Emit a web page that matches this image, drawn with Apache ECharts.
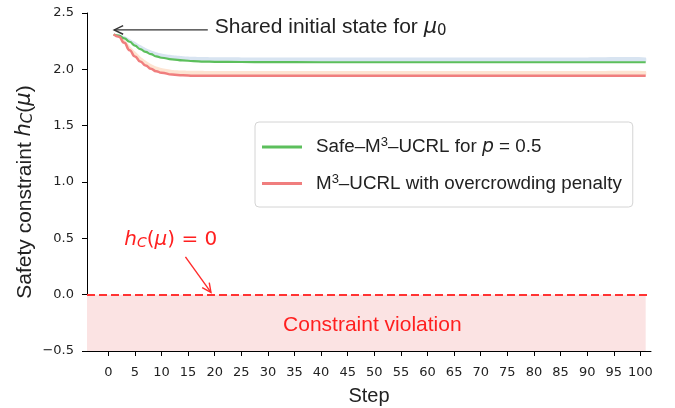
<!DOCTYPE html>
<html lang="en">
<head>
<meta charset="UTF-8">
<title>Safety constraint</title>
<style>
  html, body { margin: 0; padding: 0; background: #fff; }
  #chart { width: 675px; height: 408px; }
</style>
<script src="https://cdn.jsdelivr.net/npm/echarts@6/dist/echarts.min.js"></script>
</head>
<body>
<div id="chart"></div>
<script>
const steps = [1, 2, 3, 4, 5, 6, 7, 8, 9, 10, 12, 14, 16, 18, 20, 25, 30, 40, 50, 60, 70, 80, 90, 101];
// Safe-M3-UCRL (green) and its upper band (light blue)
const safeMean  = [2.31, 2.30, 2.275, 2.245, 2.21, 2.18, 2.155, 2.135, 2.115, 2.103, 2.088, 2.079, 2.073, 2.069, 2.067, 2.065, 2.064, 2.063, 2.063, 2.063, 2.063, 2.063, 2.063, 2.063];
const safeUpper = [2.31, 2.31, 2.295, 2.27, 2.245, 2.215, 2.19, 2.17, 2.152, 2.14, 2.125, 2.117, 2.112, 2.109, 2.107, 2.106, 2.105, 2.105, 2.105, 2.105, 2.105, 2.105, 2.105, 2.105];
// M3-UCRL with penalty (red) and its upper band (peach)
const penMean  = [2.31, 2.29, 2.235, 2.17, 2.115, 2.07, 2.035, 2.005, 1.983, 1.97, 1.954, 1.947, 1.944, 1.943, 1.943, 1.943, 1.943, 1.943, 1.943, 1.943, 1.943, 1.943, 1.943, 1.943];
const penUpper = [2.31, 2.30, 2.265, 2.21, 2.16, 2.115, 2.078, 2.047, 2.026, 2.012, 1.995, 1.99, 1.987, 1.986, 1.985, 1.985, 1.985, 1.985, 1.985, 1.985, 1.985, 1.985, 1.985, 1.985];

const xTicks = [0, 5, 10, 15, 20, 25, 30, 35, 40, 45, 50, 55, 60, 65, 70, 75, 80, 85, 90, 95, 100];

const green = '#5cbf5c';
const red = '#f07e7e';
const textFont = '"Liberation Sans", Arial, sans-serif';
const mathFont = '"DejaVu Sans", sans-serif';

const pairs = (xs, ys) => xs.map((x, i) => [x, ys[i]]);

const chart = echarts.init(document.getElementById('chart'));

const legendNames = {
    safe: 'Safe–M{sup|3}–UCRL for {i|p} = 0.5',
    penalty: 'M{sup|3}–UCRL with overcrowding penalty'
};

// shaded band between a lower and an upper curve
function band(name, lower, upper, color) {
    return {
        name: name, type: 'custom', silent: true, z: 1,
        data: steps.map((s, i) => [s, lower[i], upper[i]]),
        encode: { x: 0, y: [1, 2] },
        renderItem: (params, api) => {
            if (params.dataIndex !== 0) return;
            const up = steps.map((s, i) => api.coord([s, upper[i]]));
            const lo = steps.map((s, i) => api.coord([s, lower[i]])).reverse();
            return {
                type: 'polygon',
                shape: { points: up.concat(lo), smooth: 0.2 },
                style: { fill: color }
            };
        }
    };
}

const option = {
    animation: false,
    grid: { left: 87, right: 24, top: 13, bottom: 57, outerBoundsMode: 'none' },
    xAxis: {
        type: 'value', min: -4, max: 102,
        name: 'Step', nameLocation: 'middle', nameGap: 35,
        nameTextStyle: { fontFamily: textFont, fontSize: 20, color: '#222' },
        axisLine: { onZero: false, lineStyle: { color: '#000' } },
        axisTick: { length: 5, lineStyle: { color: '#000' }, customValues: xTicks },
        axisLabel: { fontFamily: mathFont, fontSize: 13, color: '#222', margin: 15, customValues: xTicks },
        splitLine: { show: false }
    },
    yAxis: {
        type: 'value', min: -0.5, max: 2.5, interval: 0.5,
        name: 'Safety constraint {i|h}{sub|C}({i|μ})', nameLocation: 'middle', nameGap: 51, nameRotate: 90,
        nameMoveOverlap: false,
        nameTextStyle: {
            fontFamily: textFont, fontSize: 21, color: '#222', padding: [0, 20, 0, 0],
            rich: {
                i: { fontFamily: mathFont, fontStyle: 'italic', fontSize: 21 },
                sub: { fontFamily: mathFont, fontStyle: 'italic', fontSize: 15, verticalAlign: 'bottom', padding: [7, 0, 0, 0] }
            }
        },
        axisLine: { show: true, onZero: false, lineStyle: { color: '#000' } },
        axisTick: { show: true, length: 5, lineStyle: { color: '#000' } },
        axisLabel: {
            fontFamily: mathFont, fontSize: 13, color: '#222', margin: 13,
            formatter: v => (v < 0 ? '−' : '') + Math.abs(v).toFixed(1)
        },
        splitLine: { show: false }
    },
    legend: {
        data: ['safe', 'penalty'],
        orient: 'vertical', left: 255, top: 122,
        backgroundColor: '#fff', borderColor: '#d4d4d4', borderWidth: 1, borderRadius: 4,
        padding: [14, 11, 14, 7], itemGap: 16,
        icon: 'rect', itemWidth: 40, itemHeight: 3,
        formatter: n => legendNames[n],
        textStyle: {
            fontFamily: textFont, fontSize: 18.8, color: '#222', padding: [0, 0, 0, 9],
            rich: {
                sup: { fontSize: 13, verticalAlign: 'top', padding: [0, 0, 9, 0] },
                i: { fontFamily: mathFont, fontStyle: 'italic', fontSize: 18.8 }
            }
        }
    },
    series: [
        band('safeBand', safeMean, safeUpper, '#d8e4f1'),
        band('penBand', penMean, penUpper, '#fde4d2'),
        {
            name: 'safe', type: 'line', smooth: 0.5, smoothMonotone: 'x', showSymbol: false, color: green,
            data: pairs(steps, safeMean), lineStyle: { color: green, width: 2.2 }, z: 2,
            markArea: {
                silent: true,
                itemStyle: { color: '#fbe3e3' },
                label: { show: true, position: 'inside', color: '#ff1f1f', fontSize: 21, fontFamily: textFont, offset: [6, 2] },
                data: [[{ name: 'Constraint violation', coord: [-4, -0.5] }, { coord: [101, 0] }]]
            }
        },
        {
            name: 'penalty', type: 'line', smooth: 0.5, smoothMonotone: 'x', showSymbol: false, color: red,
            data: pairs(steps, penMean), lineStyle: { color: red, width: 2.5 }, z: 3,
            markLine: {
                silent: true, symbol: 'none',
                lineStyle: { color: '#ff3333', width: 2, type: [8, 4], opacity: 1 },
                label: { show: false },
                emphasis: { disabled: true },
                data: [{ yAxis: 0 }]
            }
        }
    ]
};

chart.setOption(option);

// annotations placed in data coordinates
function px(x, y) { return chart.convertToPixel({ gridIndex: 0 }, [x, y]); }

function arrow(from, to, color, width) {
    const a = px(from[0], from[1]);
    const b = px(to[0], to[1]);
    const ang = Math.atan2(b[1] - a[1], b[0] - a[0]);
    const len = 10, spread = 0.45;
    const h1 = [b[0] - len * Math.cos(ang - spread), b[1] - len * Math.sin(ang - spread)];
    const h2 = [b[0] - len * Math.cos(ang + spread), b[1] - len * Math.sin(ang + spread)];
    return [
        { type: 'line', shape: { x1: a[0], y1: a[1], x2: b[0], y2: b[1] }, style: { stroke: color, lineWidth: width }, z: 10 },
        { type: 'polyline', shape: { points: [h1, b, h2] }, style: { stroke: color, lineWidth: width, fill: null }, z: 10 }
    ];
}

const sharedPos = px(20, 2.35);
const zeroPos = px(3, 0.46);

chart.setOption({
    graphic: [
        ...arrow([18.7, 2.35], [1.1, 2.35], '#333', 1.4),
        {
            type: 'text', left: sharedPos[0], top: sharedPos[1] - 13, z: 10,
            style: {
                text: 'Shared initial state for {i|μ}{sub|0}',
                font: '21px ' + textFont, fill: '#222',
                rich: {
                    i: { fontFamily: mathFont, fontStyle: 'italic', fontSize: 21 },
                    sub: { fontFamily: mathFont, fontSize: 15, verticalAlign: 'bottom', padding: [7, 0, 0, 0] }
                }
            }
        },
        ...arrow([14.5, 0.335], [19.3, 0.02], '#ff2a2a', 1.4),
        {
            type: 'text', left: zeroPos[0], top: zeroPos[1] - 13, z: 10,
            style: {
                text: '{i|h}{sub|C}({i|μ}) = 0',
                font: '20px ' + mathFont, fill: '#ff2020',
                rich: {
                    i: { fontFamily: mathFont, fontStyle: 'italic', fontSize: 20, fill: '#ff2020' },
                    sub: { fontFamily: mathFont, fontStyle: 'italic', fontSize: 14, verticalAlign: 'bottom', padding: [7, 0, 0, 0], fill: '#ff2020' }
                }
            }
        }
    ]
});
</script>
</body>
</html>
